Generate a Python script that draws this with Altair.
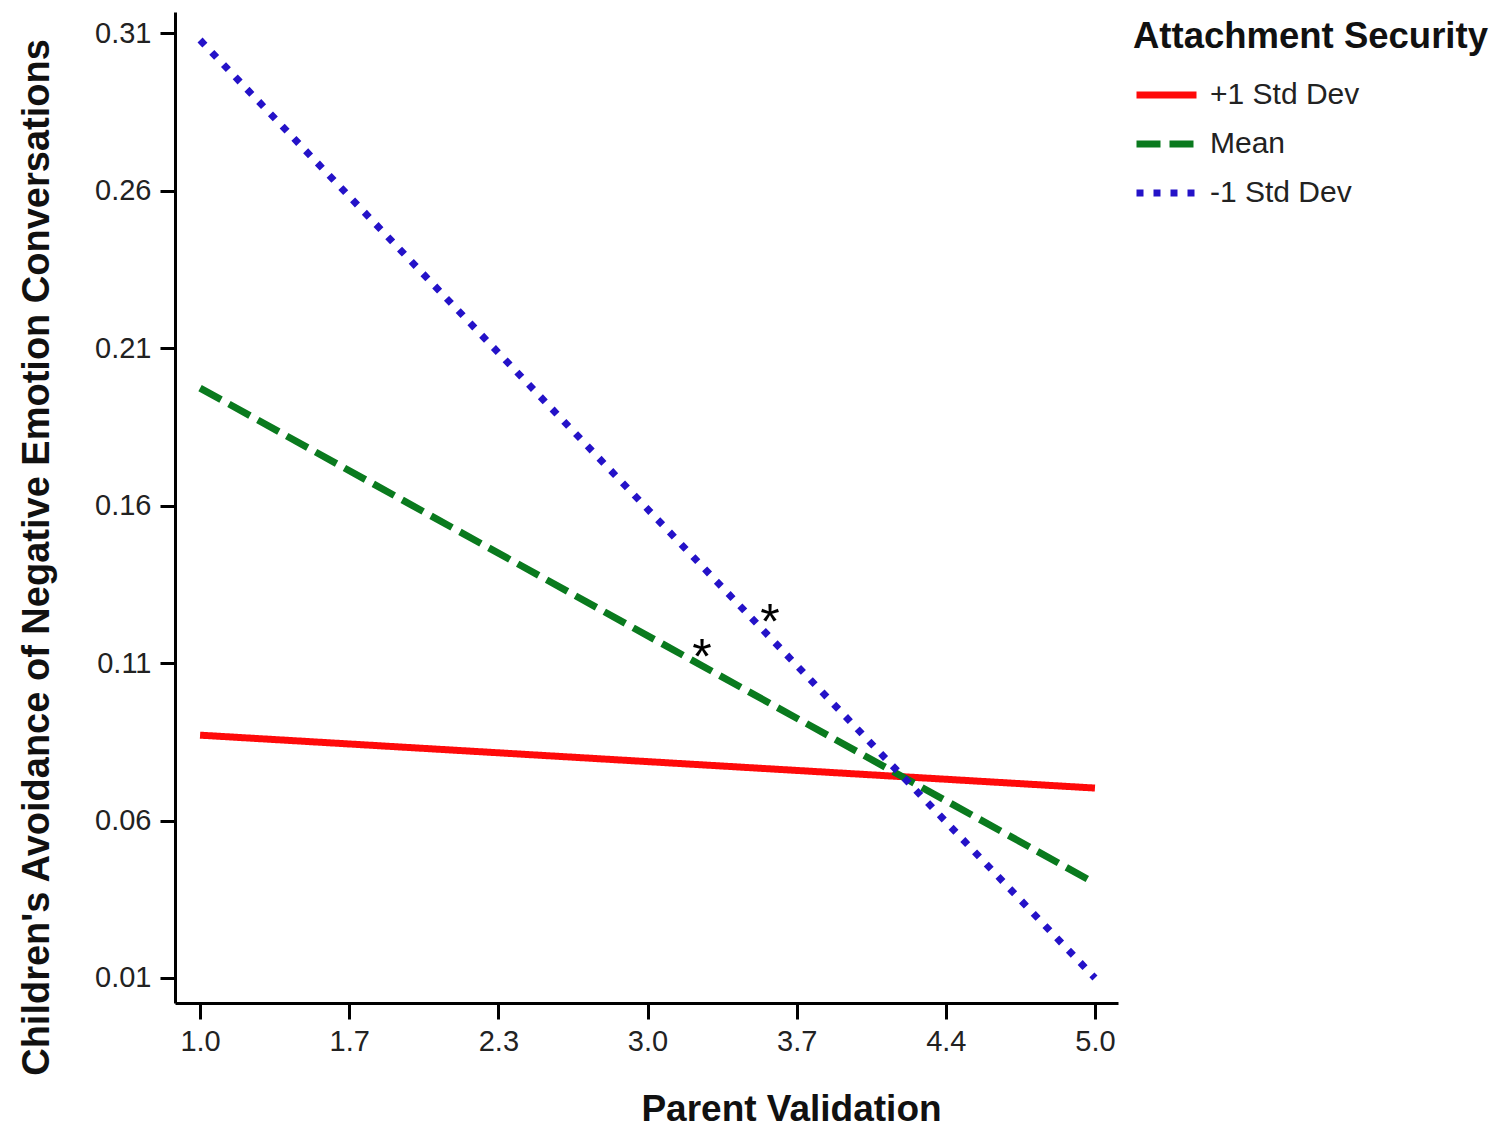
import altair as alt
import pandas as pd

# ---- data ----
x_vals = [1.0, 5.0]
series_names = ["+1 Std Dev", "Mean", "-1 Std Dev"]
plus1_vals = [0.0871, 0.0703]
mean_vals = [0.1973, 0.0401]
minus1_vals = [0.3078, 0.0100]

star_x = [3.243, 3.547]
star_y = [0.1157, 0.1268]

x_ticks = [1.0, 5 / 3, 7 / 3, 3.0, 11 / 3, 13 / 3, 5.0]
x_tick_labels = ["1.0", "1.7", "2.3", "3.0", "3.7", "4.4", "5.0"]
y_ticks = [0.01, 0.06, 0.11, 0.16, 0.21, 0.26, 0.31]

colors = ["#ff0a0a", "#0a7a1e", "#2412c8"]
dashes = [[1, 0], [24, 9], [7, 10]]

rows = []
for name, vals in zip(series_names, [plus1_vals, mean_vals, minus1_vals]):
    for x, y in zip(x_vals, vals):
        rows.append({"pv": x, "val": y, "group": name})
df = pd.DataFrame(rows)
stars = pd.DataFrame({"pv": star_x, "val": star_y, "t": ["*", "*"]})

FONT = "Liberation Sans"
label_js = "[" + ",".join("'%s'" % s for s in x_tick_labels) + "]"

xscale = alt.Scale(domain=[0.888, 5.103], nice=False, zero=False)
yscale = alt.Scale(domain=[0.00206, 0.3167], nice=False, zero=False)


def make_legend():
    return alt.Legend(
        title="Attachment Security",
        orient="none",
        legendX=958,
        legendY=7,
        padding=0,
        titleFont=FONT,
        titleFontSize=36.5,
        titleFontWeight="bold",
        titleColor="#111111",
        titleLimit=600,
        titlePadding=6,
        labelFont=FONT,
        labelFontSize=30,
        labelColor="#222222",
        labelLimit=400,
        labelOffset=10,
        rowPadding=0,
        symbolType="stroke",
        symbolSize=3600,
        symbolStrokeWidth=7,
    )


lines = alt.Chart(df).mark_line(strokeWidth=7, strokeCap="butt").encode(
    x=alt.X(
        "pv:Q",
        scale=xscale,
        axis=alt.Axis(
            title="Parent Validation",
            values=x_ticks,
            labelExpr=label_js + "[round((datum.value-1)*1.5)]",
            grid=False,
            domainColor="black",
            domainWidth=3,
            tickColor="black",
            tickWidth=3,
            tickSize=16,
            labelFont=FONT,
            labelFontSize=29,
            labelColor="#222222",
            labelPadding=8,
            titleFont=FONT,
            titleFontSize=37,
            titleFontWeight="bold",
            titleColor="#111111",
            titleX=616,
            titleY=117,
            titleAlign="center",
            titleBaseline="alphabetic",
        ),
    ),
    y=alt.Y(
        "val:Q",
        scale=yscale,
        axis=alt.Axis(
            title="Children's Avoidance of Negative Emotion Conversations",
            values=y_ticks,
            format=".2f",
            grid=False,
            domainColor="black",
            domainWidth=3,
            tickColor="black",
            tickWidth=3,
            tickSize=15,
            labelFont=FONT,
            labelFontSize=29,
            labelColor="#222222",
            labelPadding=9,
            titleFont=FONT,
            titleFontSize=38,
            titleFontWeight="bold",
            titleColor="#111111",
            titleAngle=270,
            titleX=-127,
            titleY=545,
            titleAlign="center",
            titleBaseline="alphabetic",
        ),
    ),
    color=alt.Color(
        "group:N",
        scale=alt.Scale(domain=series_names, range=colors),
        sort=series_names,
        legend=make_legend(),
    ),
    strokeDash=alt.StrokeDash(
        "group:N",
        scale=alt.Scale(domain=series_names, range=dashes),
        sort=series_names,
        legend=make_legend(),
    ),
    detail="group:N",
)

star_marks = alt.Chart(stars).mark_text(
    font=FONT, fontSize=50, color="black", baseline="alphabetic", dy=29
).encode(
    x=alt.X("pv:Q", scale=xscale),
    y=alt.Y("val:Q", scale=yscale),
    text="t:N",
)

chart = (
    alt.layer(lines, star_marks)
    .properties(
        width=943,
        height=991,
        autosize=alt.AutoSizeParams(type="none"),
        padding={"left": 167, "top": 4, "right": 383, "bottom": 125},
        background="white",
    )
    .configure_view(stroke=None)
)

chart.save("out.html", embed_options={"renderer": "svg", "actions": False})
